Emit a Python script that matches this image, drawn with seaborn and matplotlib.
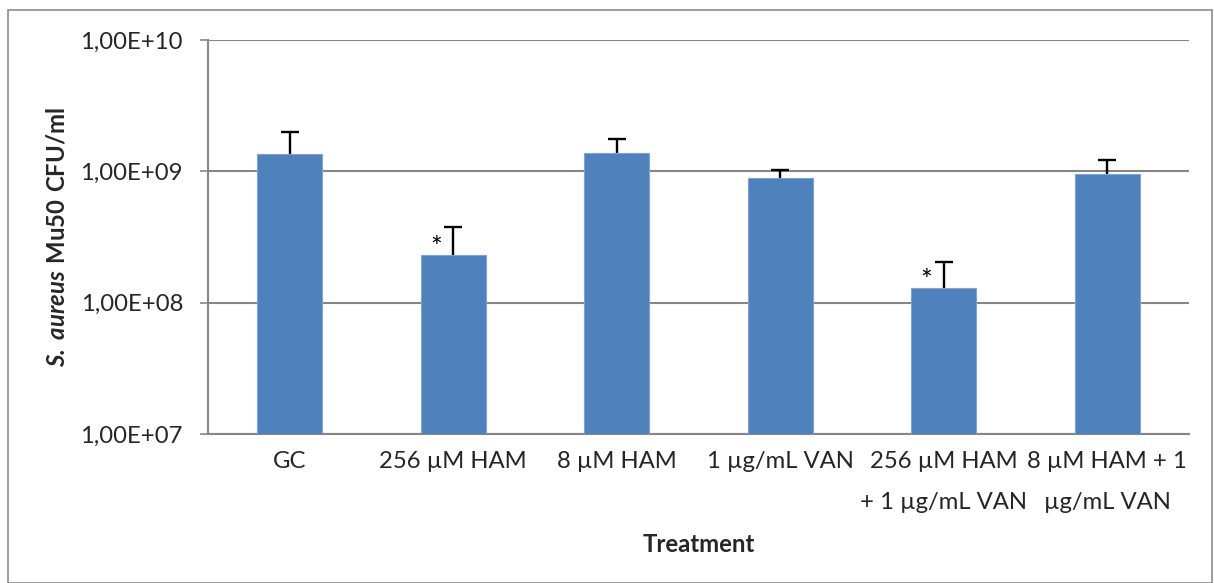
import numpy as np
import pandas as pd
import matplotlib
matplotlib.use("Agg")
import matplotlib.pyplot as plt
import seaborn as sns
from matplotlib.patches import Rectangle
from matplotlib.ticker import FixedLocator, FuncFormatter, NullLocator

# valores (CFU/ml)
treatments = ["GC", "256 µM HAM", "8 µM HAM", "1 µg/mL VAN",
              "256 µM HAM\n+ 1 µg/mL VAN", "8 µM HAM + 1\nµg/mL VAN"]
cfu_mean = [1.36e9, 2.29e8, 1.39e9, 8.85e8, 1.30e8, 9.6e8]
cfu_upper = [2.0e9, 3.74e8, 1.75e9, 1.03e9, 2.03e8, 1.21e9]
significant = [False, True, False, False, True, False]

df = pd.DataFrame({"treatment": treatments, "cfu": cfu_mean})

sns.set_style("white")
plt.rcParams["font.family"] = ["Lato", "DejaVu Sans"]
plt.rcParams["mathtext.fontset"] = "custom"
plt.rcParams["mathtext.bfit"] = "Lato:italic:bold"
plt.rcParams["mathtext.bf"] = "Lato:bold"
plt.rcParams["mathtext.rm"] = "Lato"

fs = 17.2
fig = plt.figure(figsize=(12.14, 5.83), dpi=100)
ax = fig.add_axes([208 / 1214, 149 / 583, 981 / 1214, 394 / 583])

grid_col = "#868686"
sns.barplot(data=df, x="treatment", y="cfu", color="#4F81BD", width=0.4,
            saturation=1, edgecolor="#7FA3D3", linewidth=0.8, ax=ax, zorder=3)
ax.set_yscale("log")
ax.set_ylim(1e7, 1e10)
ax.set_xlim(-0.5, len(treatments) - 0.5)

# barras de erro (só para cima, cap só no topo)
x = np.arange(len(treatments))
err = np.array(cfu_upper) - np.array(cfu_mean)
ax.errorbar(x, cfu_mean, yerr=[np.zeros_like(err), err], fmt="none",
            ecolor="black", elinewidth=1.7, capsize=0, zorder=4)
ax.plot(x, cfu_upper, linestyle="none", marker="_", markersize=13,
        markeredgewidth=1.7, color="black", zorder=4)

for i, sig in enumerate(significant):
    if sig:
        ax.annotate("*", xy=(i, cfu_mean[i]), xytext=(-12.5, -5),
                    textcoords="offset points", ha="center", va="bottom",
                    fontsize=20, color="black")

# eixo y
ax.yaxis.set_major_locator(FixedLocator([1e7, 1e8, 1e9, 1e10]))
ax.yaxis.set_minor_locator(NullLocator())
ax.yaxis.set_major_formatter(FuncFormatter(lambda v, p: f"1,00E+{int(round(np.log10(v))):02d}"))
ax.grid(axis="y", color=grid_col, linewidth=1.5, zorder=0)
ax.set_axisbelow(True)

# eixo x: ticks nos limites das categorias
ax.set_xticks(x)
ax.set_xticklabels(treatments, fontsize=fs, linespacing=2.2)
ax.xaxis.set_minor_locator(FixedLocator(np.arange(-0.5, len(treatments), 1.0)))
ax.tick_params(axis="x", which="major", length=0, pad=12)
ax.tick_params(axis="x", which="minor", length=6, width=1.2, color=grid_col)
ax.tick_params(axis="y", which="major", length=6, width=1.2, color=grid_col,
               labelsize=fs, pad=12, left=True)

for s in ["top", "right"]:
    ax.spines[s].set_visible(False)
for s in ["left", "bottom"]:
    ax.spines[s].set_color(grid_col)
    ax.spines[s].set_linewidth(1.5)

ax.set_xlabel("Treatment", fontsize=fs, fontweight="bold", labelpad=14)
ax.set_ylabel(r"$\mathbfit{S.\:aureus}\ \mathbf{Mu50\ CFU/ml}$", fontsize=fs,
              labelpad=9)

# moldura externa
fig.patches.append(Rectangle((8 / 1214, 0), 1204 / 1214, 573 / 583,
                             transform=fig.transFigure, fill=False,
                             edgecolor="#8c8c8c", linewidth=1.2))

plt.savefig("out.png", dpi=100)
plt.close()
